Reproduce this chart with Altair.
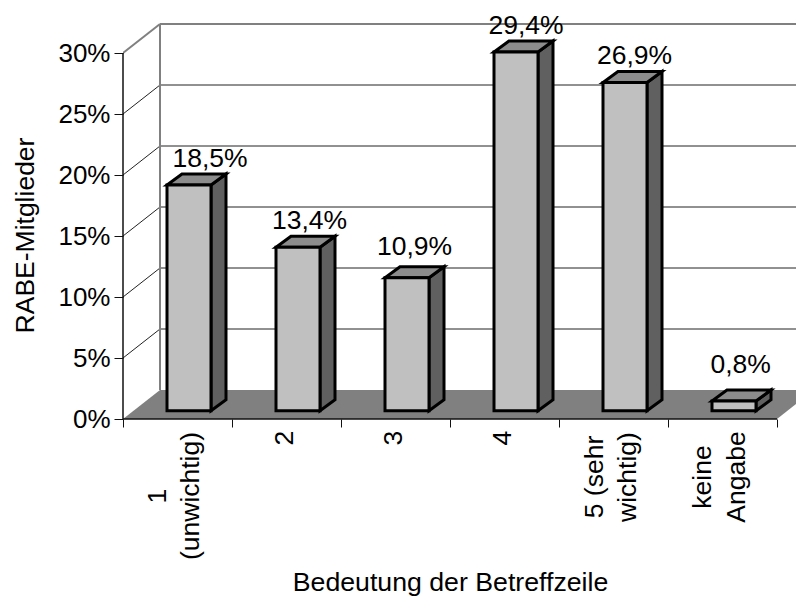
import altair as alt
import pandas as pd

categories = ["1", "2", "3", "4", "5", "keine Angabe"]
tick_lines = [["1", "(unwichtig)"], ["2"], ["3"], ["4"], ["5 (sehr", "wichtig)"], ["keine", "Angabe"]]
values = [18.5, 13.4, 10.9, 29.4, 26.9, 0.8]
value_labels = ["18,5%", "13,4%", "10,9%", "29,4%", "26,9%", "0,8%"]
y_ticks = [0, 5, 10, 15, 20, 25, 30]

# layout (pixels on the page)
PX_CAT = 109.0
PX_PCT = 12.2
W, H = 673, 405
n = len(categories)
depth_x, depth_y = 37 / PX_CAT, 29 / PX_PCT
bar_l, bar_w = 44 / PX_CAT, 44 / PX_CAT
bar_dx, bar_dy, bar_base = 15 / PX_CAT, 11 / PX_PCT, 8.3 / PX_PCT
label_shift_px = [21, 11.5, 7.5, 10, 9.5, 6.7]
label_gap_px = [7, 7, 11.5, 7, 7.5, 16.5]
tick_center_px = [77, 19, 19, 19, 58, 58]
tick_shift_px = [-20, -1.5, -1.5, -1.5, -19, -19.5]

FONT = "Liberation Sans"
FS = 26.5

xs = alt.Scale(domain=[0, W / PX_CAT], nice=False, zero=False)
ys = alt.Scale(domain=[0, H / PX_PCT], nice=False, zero=False)
x_axis = alt.Axis(
    values=list(range(n + 1)), labels=False, grid=False, domain=False, tickSize=8, tickColor="#111111",
    title="Bedeutung der Betreffzeile", titleFont=FONT, titleFontSize=26.7, titleFontWeight="normal",
    titleColor="black", titleX=327, titleY=171, titleBaseline="alphabetic", titleAlign="center")
y_axis = alt.Axis(
    values=y_ticks, grid=False, domain=False, tickSize=9, tickColor="#111111", labelExpr="datum.value + '%'",
    labelFont=FONT, labelFontSize=26, labelColor="black", labelPadding=4, labelBaseline="middle",
    title="RABE-Mitglieder", titleFont=FONT, titleFontSize=26.5, titleFontWeight="normal", titleColor="black",
    titleX=-90, titleY=221, titleAngle=270, titleBaseline="alphabetic", titleAlign="center")
X = lambda f="x": alt.X(f"{f}:Q", scale=xs, axis=x_axis)
Y = lambda f="y": alt.Y(f"{f}:Q", scale=ys, axis=y_axis)
X2 = alt.X2("x2:Q")
Y2 = alt.Y2("y2:Q")

# floor
floor = pd.DataFrame({"x": [0, depth_x], "x2": [n, n + depth_x], "y": [0, depth_y]})
layers = [
    alt.Chart(floor).mark_area(orient="horizontal", color="#808080", clip=True).encode(X(), X2, Y())
]

# back wall grid + slanted side grid
grid_vals = [v for v in y_ticks if 0 < v < 30]
back = pd.DataFrame({"x": [depth_x] * len(grid_vals), "x2": [n + depth_x] * len(grid_vals),
                     "y": [v + depth_y for v in grid_vals]})
side = pd.DataFrame({"x": [0] * len(grid_vals), "x2": [depth_x] * len(grid_vals),
                     "y": grid_vals, "y2": [v + depth_y for v in grid_vals]})
layers.append(alt.Chart(back).mark_rule(color="#222222", strokeWidth=1, clip=True).encode(X(), X2, Y()))
layers.append(alt.Chart(side).mark_rule(color="#222222", strokeWidth=1).encode(X(), X2, Y(), Y2))

# grey frame of wall
frame = pd.DataFrame([
    {"x": depth_x, "x2": n + depth_x, "y": 30 + depth_y, "y2": 30 + depth_y},
    {"x": depth_x, "x2": depth_x, "y": depth_y, "y2": 30 + depth_y},
    {"x": 0, "x2": depth_x, "y": 30, "y2": 30 + depth_y},
])
layers.append(alt.Chart(frame).mark_rule(color="#808080", strokeWidth=2, clip=True).encode(X(), X2, Y(), Y2))

# axis lines (tick marks come from the axes)
axis_df = pd.DataFrame([{"x": 0, "x2": n, "y": 0, "y2": 0}, {"x": 0, "x2": 0, "y": 0, "y2": 30}])
layers.append(alt.Chart(axis_df).mark_rule(color="#111111", strokeWidth=1.5).encode(X(), X2, Y(), Y2))

# bars
front_rows, side_rows, top_rows = [], [], []
for i, v in enumerate(values):
    l, r = i + bar_l, i + bar_l + bar_w
    lo, hi = bar_base, bar_base + v
    front_rows.append({"i": i, "x": l, "x2": r, "y": lo, "y2": hi})
    side_rows += [{"i": i, "x": r, "y": lo, "y2": hi},
                  {"i": i, "x": r + bar_dx, "y": lo + bar_dy, "y2": hi + bar_dy}]
    top_rows += [{"i": i, "x": l, "x2": r, "y": hi},
                 {"i": i, "x": l + bar_dx, "x2": r + bar_dx, "y": hi + bar_dy}]
SW = 3
layers.append(alt.Chart(pd.DataFrame(side_rows)).mark_area(color="#606060", stroke="black", strokeWidth=SW, strokeJoin="miter")
              .encode(X(), Y(), Y2, detail="i:N"))
layers.append(alt.Chart(pd.DataFrame(top_rows)).mark_area(orient="horizontal", color="#8c8c8c", stroke="black", strokeWidth=SW, strokeJoin="miter")
              .encode(X(), X2, Y(), detail="i:N"))
layers.append(alt.Chart(pd.DataFrame(front_rows)).mark_rect(color="#c0c0c0", stroke="black", strokeWidth=SW)
              .encode(X(), X2, Y(), Y2))

# value labels
lab = pd.DataFrame({
    "x": [i + bar_l + bar_w / 2 + s / PX_CAT for i, s in enumerate(label_shift_px)],
    "y": [bar_base + v + bar_dy + g / PX_PCT for v, g in zip(values, label_gap_px)],
    "t": value_labels})
layers.append(alt.Chart(lab).mark_text(font=FONT, fontSize=FS, color="black", align="center", baseline="alphabetic")
              .encode(X(), Y(), text="t:N"))

# category labels
cat = pd.DataFrame({
    "x": [i + 0.5 + s / PX_CAT for i, s in enumerate(tick_shift_px)],
    "y": [-(c / PX_PCT) for c in tick_center_px],
    "t": tick_lines})
layers.append(alt.Chart(cat).mark_text(font=FONT, fontSize=FS, color="black", align="center", baseline="middle",
                                       angle=270, lineHeight=33.7)
              .encode(X(), Y(), text="t"))

chart = alt.layer(*layers).properties(
    width=W, height=H,
    autosize=alt.AutoSizeParams(type="none"),
    padding={"left": 115, "top": 6, "right": 0, "bottom": 177},
).configure_view(stroke=None)

chart.save("out.html", embed_options={"renderer": "svg", "actions": False})
